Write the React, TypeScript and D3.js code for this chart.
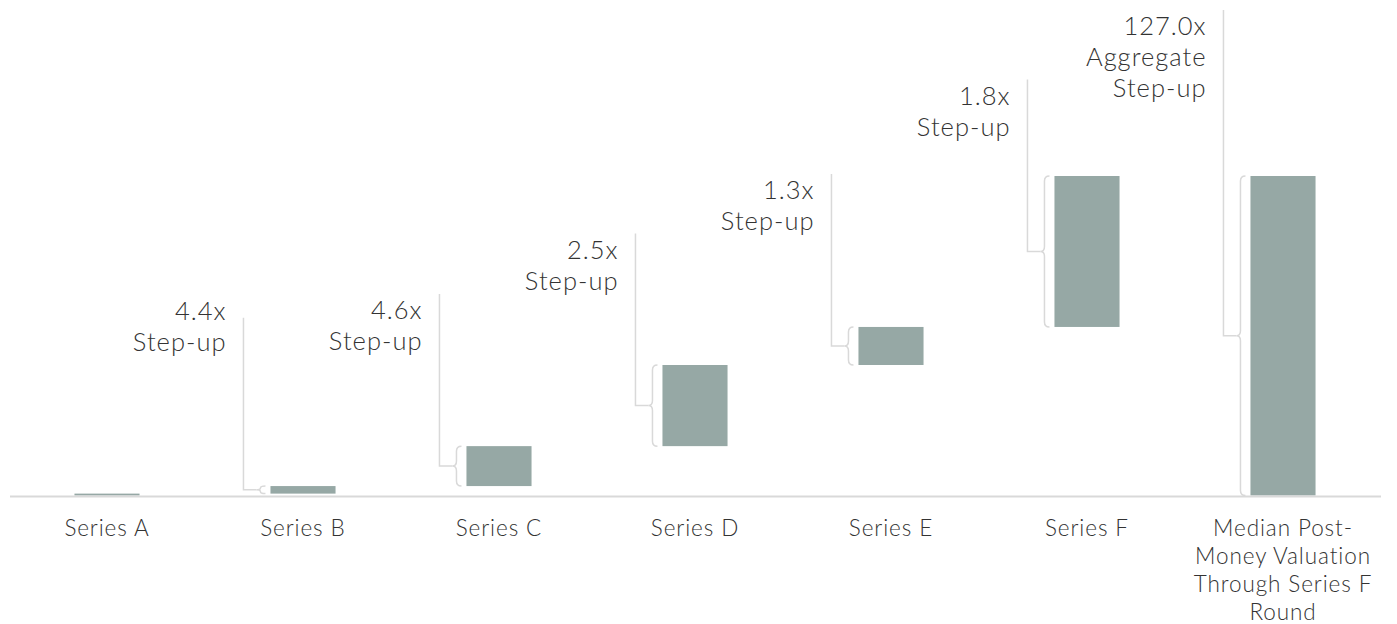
import React from "react";
import * as d3 from "d3";

const categories = [
  "Series A",
  "Series B",
  "Series C",
  "Series D",
  "Series E",
  "Series F",
  "Median Post-\nMoney Valuation\nThrough Series F\nRound",
];
// cumulative median post-money valuation ($M) through each round
const cumulativeValues = [6, 30, 157, 415, 536, 1016];
const stepLabels = [
  "",
  "4.4x\nStep-up",
  "4.6x\nStep-up",
  "2.5x\nStep-up",
  "1.3x\nStep-up",
  "1.8x\nStep-up",
  "127.0x\nAggregate\nStep-up",
];

const W = 1397;
const H = 624;
const BAR = "#96a8a5";
const GRID = "#d9d9d9";
const TEXT = "#333333";
const FONT = "Lato, 'Open Sans', sans-serif";

export default function App() {
  const x = d3
    .scaleBand<string>()
    .domain(categories)
    .range([9, 1381])
    .paddingInner(0.668)
    .paddingOuter(0.334);
  const y = d3.scaleLinear().domain([0, 1300]).range([495.5, 86.7]);

  const total = cumulativeValues[cumulativeValues.length - 1];
  const bars = categories.map((c, i) => {
    if (i < cumulativeValues.length) {
      const lo = i === 0 ? 0 : cumulativeValues[i - 1];
      return { c, lo, hi: cumulativeValues[i], i };
    }
    return { c, lo: 0, hi: total, i };
  });

  const bw = x.bandwidth();

  const bracePath = (left: number, top: number, bottom: number) => {
    const mid = (top + bottom) / 2;
    const xe = left - 5;
    const xv = left - 10;
    const xt = left - 14;
    const r = Math.min(5, (bottom - top) / 4);
    const p = d3.path();
    p.moveTo(xe, top);
    p.quadraticCurveTo(xv, top, xv, top + r);
    p.lineTo(xv, mid - r);
    p.quadraticCurveTo(xv, mid, xt, mid);
    p.quadraticCurveTo(xv, mid, xv, mid + r);
    p.lineTo(xv, bottom - r);
    p.quadraticCurveTo(xv, bottom, xe, bottom);
    return p.toString();
  };

  return (
    <svg
      width={W}
      height={H}
      style={{ position: "absolute", left: 0, top: 0 }}
      fontFamily={FONT}
      fontWeight={300}
    >
      {bars.map((b) => {
        const bx = x(b.c)!;
        const top = y(b.hi);
        const bottom = y(b.lo);
        return (
          <rect
            key={"bar" + b.i}
            x={bx}
            y={top}
            width={bw}
            height={Math.max(1, bottom - top)}
            fill={BAR}
          />
        );
      })}
      <line x1={10} x2={1381} y1={496.5} y2={496.5} stroke={GRID} strokeWidth={2} />
      {bars.map((b) => {
        if (!stepLabels[b.i]) return null;
        const bx = x(b.c)!;
        const top = y(b.hi);
        const bottom = y(b.lo);
        const mid = (top + bottom) / 2;
        const isTotal = b.i === categories.length - 1;
        const lx = bx - 27;
        const leaderTop = isTotal ? 10 : mid - 172;
        const lines = stepLabels[b.i].split("\n");
        const firstY = Math.min(leaderTop + 16, 311);
        return (
          <g key={"br" + b.i}>
            <path
              d={bracePath(bx, top, bottom)}
              fill="none"
              stroke={GRID}
              strokeWidth={1.5}
            />
            <path
              d={`M${lx},${leaderTop}V${mid}H${bx - 14}`}
              fill="none"
              stroke={GRID}
              strokeWidth={1.5}
            />
            {lines.map((t, k) => (
              <text
                key={k}
                x={lx - 17}
                y={firstY + k * 31}
                dy="0.36em"
                textAnchor="end"
                fontSize={25.5}
                fill={TEXT}
                letterSpacing={1}
              >
                {t}
              </text>
            ))}
          </g>
        );
      })}
      {categories.map((c, i) => {
        const cx = x(c)! + bw / 2;
        return c.split("\n").map((t, k) => (
          <text
            key={"ax" + i + "_" + k}
            x={cx}
            y={528 + k * 28}
            dy="0.36em"
            textAnchor="middle"
            fontSize={22.5}
            fill={TEXT}
            letterSpacing={0.9}
          >
            {t}
          </text>
        ));
      })}
    </svg>
  );
}
